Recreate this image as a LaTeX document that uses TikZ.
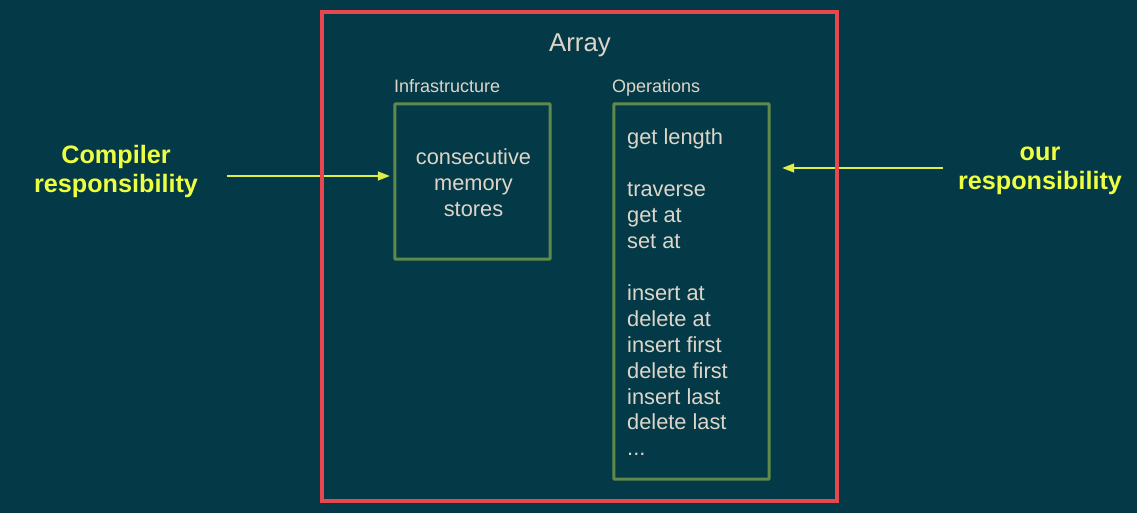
\documentclass[tikz,border=0pt]{standalone}
\usepackage{fontspec}
\setmainfont{Liberation Sans}
\usetikzlibrary{arrows.meta}
\definecolor{bg}{RGB}{4,57,72}
\definecolor{redline}{RGB}{232,72,77}
\definecolor{greenline}{RGB}{96,138,76}
\definecolor{txt}{RGB}{221,214,200}
\definecolor{yel}{RGB}{238,255,65}
\definecolor{arr}{RGB}{222,238,70}
\tikzset{
  outerbox/.style={draw=redline,line width=3.5pt},
  innerbox/.style={draw=greenline,line width=3pt,rounded corners=1pt},
  bodytext/.style={text=txt,inner sep=0pt,font=\fontsize{21.8}{25.9}\selectfont},
  smalllabel/.style={text=txt,inner sep=0pt,anchor=base west,font=\fontsize{18}{21}\selectfont},
  titletext/.style={text=txt,inner sep=0pt,anchor=base,font=\fontsize{25.8}{30}\selectfont},
  resp/.style={text=yel,inner sep=0pt,align=center,font=\bfseries\fontsize{25.2}{29.5}\selectfont},
  pointer/.style={draw=arr,line width=1.5pt,-{Triangle[length=12pt,width=9pt]}}
}
\begin{document}
\begin{tikzpicture}[x=1pt,y=-1pt]
\fill[bg] (0,0) rectangle (1137,513);
\useasboundingbox (0,0) rectangle (1137,513);
% nodes for boxes
\node[inner sep=0pt,minimum width=155pt,minimum height=155pt] (infra) at (472.5,181.5) {};
\node[inner sep=0pt,minimum width=155pt,minimum height=375pt] (ops) at (691.5,291.5) {};
% responsibility texts
\node[resp,anchor=north] (comp) at (116,145) {Compiler\\responsibility};
\node[resp,anchor=north] (our) at (1040,146.5) {our\\responsibility};
% arrows
\coordinate (lstart) at (227,176);
\coordinate (rstart) at (943,168);
\draw[pointer,shorten >=5pt] (lstart) -- (lstart -| infra.west);
\draw[pointer,shorten >=13pt] (rstart) -- (rstart -| ops.east);
% boxes
\draw[outerbox] (322,12) rectangle (837,501);
\draw[innerbox] (infra.north west) rectangle (infra.south east);
\draw[innerbox] (ops.north west) rectangle (ops.south east);
% labels
\node[titletext] (title) at (580,51.5) {Array};
\node[smalllabel] (infralabel) at (394,93) {Infrastructure};
\node[smalllabel] (opslabel) at (612,93) {Operations};
\node[bodytext,align=center,anchor=north] (infratext) at (473.5,148.5) {consecutive\\memory\\stores};
\node[bodytext,align=left,anchor=north west] (opstext) at (627,129) {get length\\[25.9pt]traverse\\get at\\set at\\[25.9pt]insert at\\delete at\\insert first\\delete first\\insert last\\delete last\\...};
\end{tikzpicture}
\end{document}
